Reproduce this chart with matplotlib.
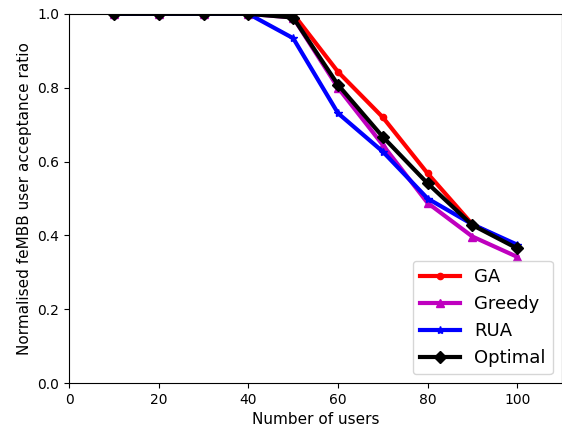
import matplotlib
matplotlib.use("Agg")
import matplotlib.pyplot as plt

users = [10, 20, 30, 40, 50, 60, 70, 80, 90, 100]
ga = [1.0, 1.0, 1.0, 1.0, 1.0, 0.843, 0.72, 0.568, 0.43, 0.37]
greedy = [1.0, 1.0, 1.0, 1.0, 0.99, 0.80, 0.645, 0.488, 0.397, 0.342]
rua = [1.0, 1.0, 1.0, 1.0, 0.934, 0.731, 0.627, 0.50, 0.43, 0.375]
optimal = [1.0, 1.0, 1.0, 1.0, 0.99, 0.808, 0.667, 0.541, 0.428, 0.365]

fig = plt.figure(figsize=(5.62, 4.32), dpi=100)
ax = fig.add_axes([0.123, 0.113, 0.877, 0.855])

ax.plot(users, ga, color="red", marker=".", lw=3, ms=9, label="GA")
ax.plot(users, greedy, color="m", marker="^", lw=3, ms=6, label="Greedy")
ax.plot(users, rua, color="blue", marker="*", lw=3, ms=6, label="RUA")
ax.plot(users, optimal, color="black", marker="D", lw=3, ms=6.5, label="Optimal")

ax.set_xlim(0, 110)
ax.set_ylim(0, 1.0)
ax.set_xticks([0, 20, 40, 60, 80, 100])
ax.set_yticks([0.0, 0.2, 0.4, 0.6, 0.8, 1.0])
ax.set_xlabel("Number of users", fontsize=11)
ax.set_ylabel("Normalised feMBB user acceptance ratio", fontsize=11)
ax.legend(loc="lower right", fontsize=13, handlelength=2.2)

fig.savefig("out.png", dpi=100)
